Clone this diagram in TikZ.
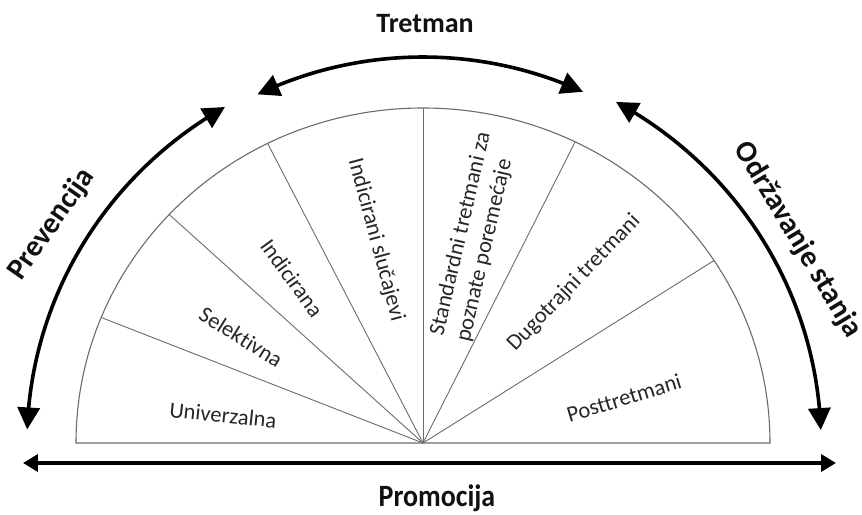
\documentclass[tikz,border=0pt]{standalone}
\usepackage{fontspec}
\setmainfont{Carlito}[Ligatures=NoCommon]
\usepackage{graphicx}
\usetikzlibrary{arrows.meta, bending}
\definecolor{TRink}{HTML}{111111}
\definecolor{TRgrey}{HTML}{6B6B6B}
\definecolor{TRtext}{HTML}{262626}
\tikzset{
  trrim/.style={draw=TRgrey, line width=1.1pt},
  trspoke/.style={draw=TRgrey, line width=0.9pt},
  trlbl/.style={text=TRtext, inner sep=0pt, font=\fontsize{22.5}{27}\selectfont},
  trhead/.style={text=TRink, inner sep=0pt, font=\bfseries\fontsize{28}{34}\selectfont},
  trside/.style={trhead, font=\bfseries\fontsize{30}{36}\selectfont},
  trarc/.style={{Triangle[length=22pt,width=22pt]}-{Triangle[length=22pt,width=22pt]},
    line width=3.6pt, draw=black},
  trline/.style={{Triangle[length=15pt,width=17pt]}-{Triangle[length=15pt,width=17pt]},
    line width=4pt, draw=black},
}

\begin{document}
\begin{tikzpicture}[x=1pt, y=1pt]
  \useasboundingbox (-423,-71) rectangle (439,443);
  \coordinate (O) at (0,0);
  %% Half disc and its sectors
  \draw[trrim] (-347,0) arc[start angle=180, end angle=0, x radius=347pt, y radius=335pt] -- cycle;
  \foreach \ang in {158,137,116.6,90,64,33}
    \draw[trspoke] (O) -- ({347*cos(\ang)},{335*sin(\ang)});
  %% Sector labels
  \node[trlbl, rotate=-6]  (univ)  at (-200,28)  {Univerzalna};
  \node[trlbl, rotate=-32] (sel)   at (-182,106) {Selektivna};
  \node[trlbl, rotate=-54] (ind)   at (-131,165) {Indicirana};
  \node[trlbl, rotate=-75] (indsl) at (-47,203)  {Indicirani slučajevi};
  \node[trlbl, rotate=77, align=left] (std) at (51,206)
        {Standardni tretmani za\\poznate poremećaje};
  \node[trlbl, rotate=46]  (dug)   at (151,160)  {Dugotrajni tretmani};
  \node[trlbl, rotate=17]  (post)  at (201,45)   {Posttretmani};
  %% Outer arcs
  \coordinate (tretL) at (115.4:386);
  \coordinate (prevT) at ({396*cos(120)},{388*sin(120)});
  \coordinate (odrT)  at ({398*cos(61)},{390*sin(61)});
  \draw[trarc] (tretL) arc[start angle=115.4, end angle=65.5, radius=386pt];
  \draw[trarc] (prevT) arc[start angle=120, end angle=178, x radius=396pt, y radius=388pt];
  \draw[trarc] (odrT) arc[start angle=61, end angle=1.9, x radius=398pt, y radius=390pt];
  %% Base arrow
  \coordinate (promL) at (-400,-20);
  \coordinate (promR) at (413,-20);
  \draw[trline] (promL) -- (promR);
  %% Phase labels
  \node[trhead] (tret) at (2,419) {Tretman};
  \node[trhead, anchor=base] (prom) at (14,-63)
        {\scalebox{0.9}[1]{\fontsize{31}{37}\selectfont Promocija}};
  \node[trside, rotate=55]  (prev) at (-371,219) {Prevencija};
  \node[trside, rotate=-59] (odr)  at (375,203)  {Održavanje stanja};
\end{tikzpicture}
\end{document}
